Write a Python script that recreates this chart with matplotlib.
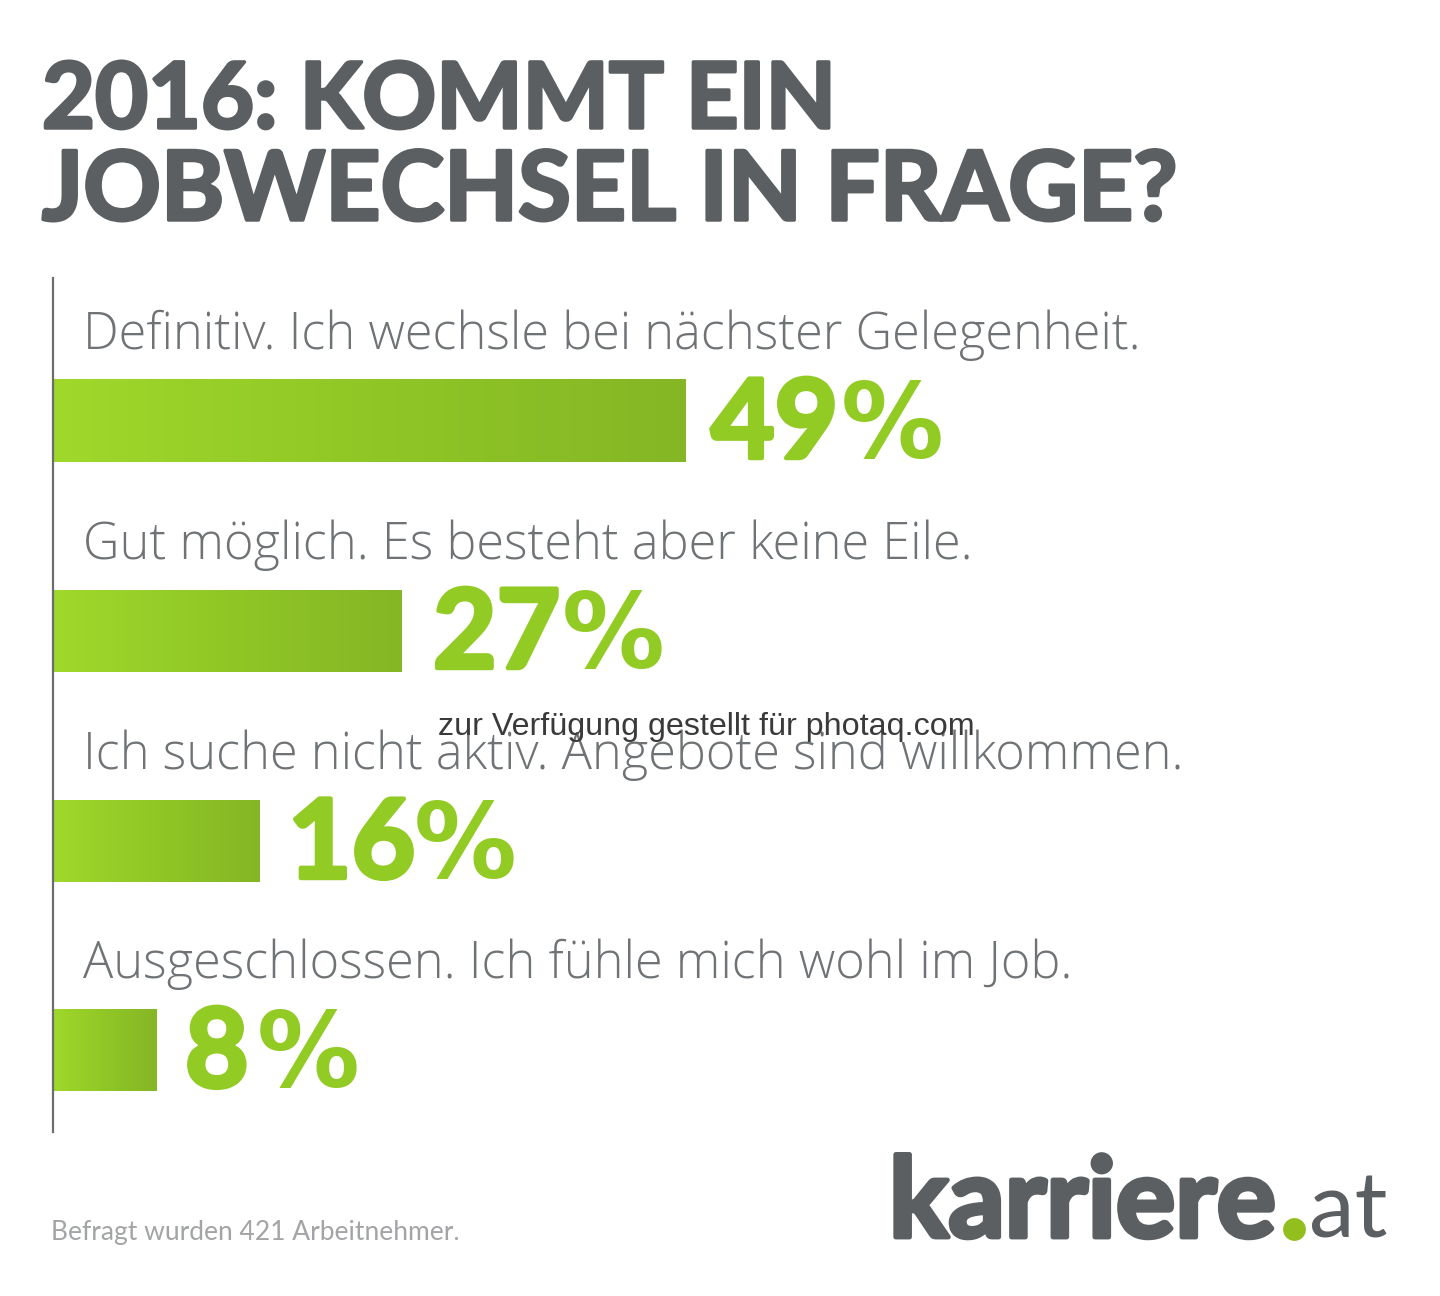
import numpy as np
import matplotlib
matplotlib.use("Agg")
import matplotlib.pyplot as plt
import matplotlib.patheffects as pe
from matplotlib.colors import LinearSegmentedColormap

title_lines = ["2016: KOMMT EIN", "JOBWECHSEL IN FRAGE?"]
categories = ["Definitiv. Ich wechsle bei nächster Gelegenheit.",
              "Gut möglich. Es besteht aber keine Eile.",
              "Ich suche nicht aktiv. Angebote sind willkommen.",
              "Ausgeschlossen. Ich fühle mich wohl im Job."]
values = [49, 27, 16, 8]
numbers = ["49", "27", "16", "8"]
footnote = "Befragt wurden 421 Arbeitnehmer."
watermark = "zur Verfügung gestellt für photaq.com"

W, H = 1440, 1296
fig = plt.figure(figsize=(W/100, H/100), dpi=100, facecolor="white")

bg = fig.add_axes([0, 0, 1, 1])
bg.set_xlim(0, W); bg.set_ylim(H, 0); bg.axis("off")

x0, x49 = 52.5, 684.5
sc = (x49 - x0) / 49
ax = fig.add_axes([x0/W, 1-1132/H, 1380/W, (1132-278)/H])
ax.axis("off")
ax.patch.set_alpha(0)

cmap = LinearSegmentedColormap.from_list("g", ["#a0d82b", "#90c726", "#85b625"])
grad = np.linspace(0, 1, 256).reshape(1, -1)
tops = [380, 590, 800, 1009]
num_x = [711, 433, 288, 185]
pct_x = [841, 562, 414, 257]
gray = "#5c5f61"
green = "#93cb25"


def thick(width, color):
    return [pe.withStroke(linewidth=width, foreground=color)]


for t, v, num, nx, px, cat in zip(tops, values, numbers, num_x, pct_x, categories):
    ax.imshow(grad, extent=[0, v, t+82, t], cmap=cmap, aspect="auto", zorder=2)
    bg.text(83, t-31, cat, fontsize=36.4, color="#6f7375", family="Open Sans",
            fontweight="light", va="baseline", ha="left")
    bg.text(nx, t+78, num, fontsize=79, color=green, family="Lato",
            fontweight="bold", va="baseline", ha="left", path_effects=thick(3.2, green))
    bg.text(px, t+78, "%", fontsize=74, color=green, family="DejaVu Sans",
            fontweight="bold", va="baseline", ha="left")
ax.set_xlim(0, 1380/sc)
ax.set_ylim(1132, 278)
ax.axvline(0, color="#6b6e70", lw=1.6, zorder=5, clip_on=False)

for y, s, fs in zip([128, 220], title_lines, [65.8, 69.2]):
    bg.text(42, y, s, fontsize=fs, fontweight="bold", color=gray, family="Lato",
            va="baseline", ha="left", path_effects=thick(2.5, gray))
bg.text(51, 1240, footnote, fontsize=19, color="#a2a4a6", family="Lato", va="baseline")
bg.text(706, 735, watermark, fontsize=23.2, color="#3a3a3a", family="Liberation Sans",
        va="baseline", ha="center", zorder=10)
bg.text(889, 1237, "karriere", fontsize=80, fontweight="bold", color=gray,
        family="Lato", va="baseline", ha="left", path_effects=thick(3.5, gray))
bg.text(1309, 1237, "at", fontsize=66, color=gray, family="Lato",
        va="baseline", ha="left")
bg.scatter([1294], [1229], s=270, color="#93bf1e", linewidths=0, zorder=6)

fig.savefig("out.png", dpi=100)
